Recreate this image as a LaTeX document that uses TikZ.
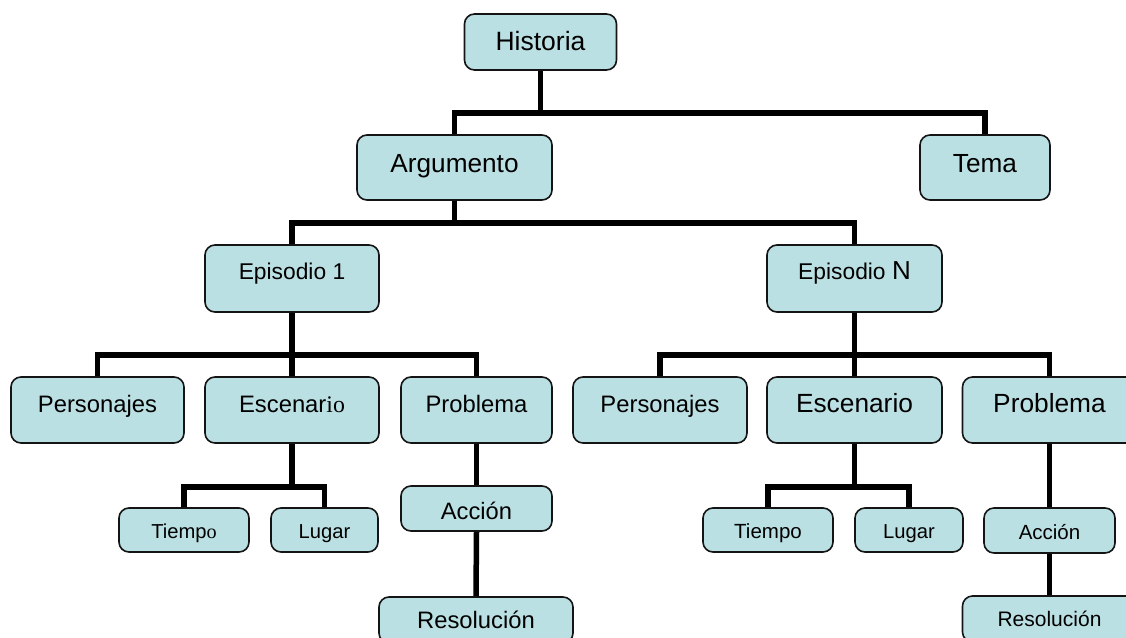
\documentclass[tikz,border=0pt]{standalone}
\usepackage{fontspec}
\setmainfont{Liberation Sans}
\newfontfamily\serifio{Liberation Serif}
\newcommand\fsz[1]{\fontsize{#1pt}{#1pt}\selectfont}
\definecolor{boxfill}{RGB}{187,224,227}
\definecolor{boxline}{RGB}{20,20,20}
\tikzset{
  box/.style={draw=boxline, fill=boxfill, rounded corners=10pt, line width=1.6pt,
    inner sep=0pt, text depth=0pt, align=center},
  conn/.style={line width=5.5pt, draw=black, line join=miter}
}
\begin{document}
\begin{tikzpicture}[x=1pt,y=-1pt]
\useasboundingbox (0,0) rectangle (1126,637);
\clip (0,0) rectangle (1126,637);
% level 0-1
\node[box, minimum width=152pt, minimum height=56pt, font=\fsz{26.5}, text height=17pt] (hist) at (540.5,42) {Historia};
\node[box, minimum width=195pt, minimum height=65pt, font=\fsz{26.2}, text height=9.8pt] (arg) at (454.5,167.5) {Argumento};
\node[box, minimum width=130pt, minimum height=65pt, font=\fsz{26.2}, text height=9.8pt] (tema) at (985,167.5) {Tema};
% episodes
\node[box, minimum width=174pt, minimum height=67pt, font=\fsz{22.8}, text height=1.3pt] (ep1) at (292,278.5) {Episodio 1};
\node[box, minimum width=175pt, minimum height=67pt, font=\fsz{22.8}, text height=1.3pt] (epN) at (854.5,278.5) {Episodio {\fsz{26}N}};
% level 3
\node[box, minimum width=173pt, minimum height=66pt, font=\fsz{23.8}, text height=4pt] (pers1) at (97.5,410) {Personajes};
\node[box, minimum width=174pt, minimum height=66pt, font=\fsz{23.8}, text height=4pt] (esc1) at (292,410) {Escenar{\serifio io}};
\node[box, minimum width=151pt, minimum height=66pt, font=\fsz{23.8}, text height=4pt] (prob1) at (476.5,410) {Problema};
\node[box, minimum width=174pt, minimum height=66pt, font=\fsz{23.8}, text height=4pt] (pers2) at (660,410) {Personajes};
\node[box, minimum width=175pt, minimum height=66pt, font=\fsz{26.3}, text height=5.8pt] (esc2) at (854.5,410) {Escenario};
\node[box, minimum width=174pt, minimum height=66pt, font=\fsz{26.3}, text height=5.8pt] (prob2) at (1049.5,410) {Problema};
% level 4 left
\node[box, minimum width=130pt, minimum height=44pt, font=\fsz{20.2}, text height=17.5pt] (tiem1) at (184,530) {Tiemp{\serifio o}};
\node[box, minimum width=107pt, minimum height=44pt, font=\fsz{20.2}, text height=17.5pt] (lug1) at (324.5,530) {Lugar};
\node[box, minimum width=151pt, minimum height=45pt, font=\fsz{23.7}, text height=21pt] (acc1) at (476.5,508.5) {Acción};
\node[box, minimum width=194pt, minimum height=46pt, font=\fsz{23.8}, text height=17pt] (res1) at (476,620) {Resolución};
% level 4 right
\node[box, minimum width=130pt, minimum height=44pt, font=\fsz{20.5}, text height=17.5pt] (tiem2) at (768,530) {Tiempo};
\node[box, minimum width=108pt, minimum height=44pt, font=\fsz{20.2}, text height=17.5pt] (lug2) at (909,530) {Lugar};
\node[box, minimum width=131pt, minimum height=45pt, font=\fsz{20.5}, text height=17.7pt] (acc2) at (1049.5,530.5) {Acción};
\node[box, minimum width=174pt, minimum height=46pt, font=\fsz{21}, text height=14pt] (res2) at (1049.5,619) {Resolución};
% junctions
\coordinate (b1) at (540.5,113);
\coordinate (b2) at (454.5,223);
\coordinate (b3) at (292,355);
\coordinate (b4) at (854.5,355);
\coordinate (b5) at (292,487);
\coordinate (b6) at (854.5,487);
% connectors
\draw[conn] (hist.south) -- (b1);
\draw[conn] (arg.north) |- (b1) -| (tema.north);
\draw[conn] (arg.south) -- (b2);
\draw[conn] (ep1.north) |- (b2) -| (epN.north);
\draw[conn] (ep1.south) -- (esc1.north);
\draw[conn] (pers1.north) |- (b3) -| (prob1.north);
\draw[conn] (epN.south) -- (esc2.north);
\draw[conn] (pers2.north) |- (b4) -| (prob2.north);
\draw[conn] (esc1.south) -- (b5);
\draw[conn] (tiem1.north) |- (b5) -| (lug1.north);
\draw[conn] (esc2.south) -- (b6);
\draw[conn] (tiem2.north) |- (b6) -| (lug2.north);
\draw[conn] (prob1.south) -- (acc1.north);
\draw[conn] (acc1.south) -- (res1.north);
\draw[conn] (prob2.south) -- (acc2.north);
\draw[conn] (acc2.south) -- (res2.north);
\end{tikzpicture}
\end{document}
